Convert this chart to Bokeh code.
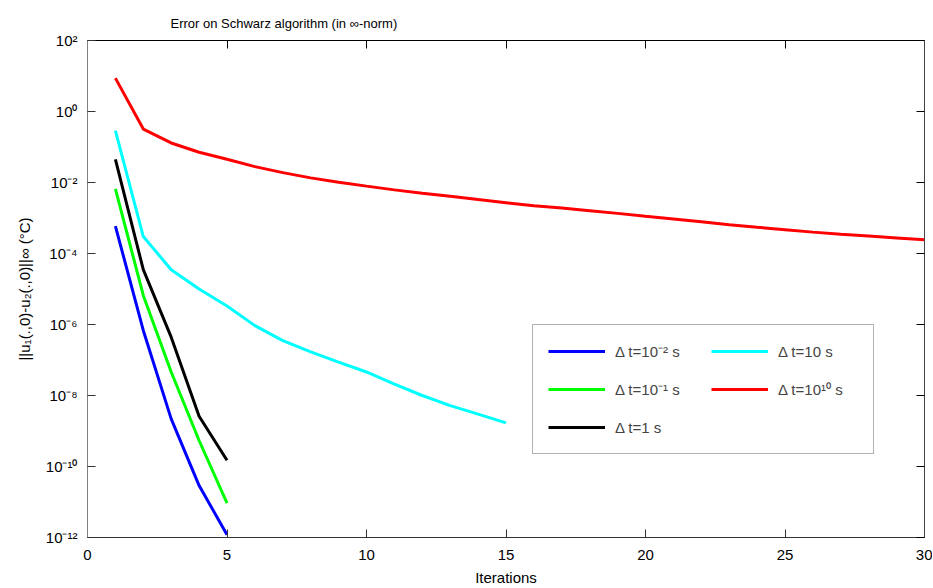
from bokeh.plotting import figure
from bokeh.models import LogAxis, LinearAxis, FixedTicker, Legend, LegendItem, Range1d, Title
from bokeh.embed import file_html
from bokeh.resources import INLINE

# ---- data ----
iters_short = [1, 2, 3, 4, 5]
iters_cyan = list(range(1, 16))
iters_red = list(range(1, 31))

err_dt_1em2 = [5.9e-4, 6.8e-7, 2.2e-9, 2.9e-11, 1.2e-12]
err_dt_1em1 = [6.6e-3, 6.6e-6, 4.6e-8, 5.4e-10, 9.3e-12]
err_dt_1 = [4.5e-2, 3.5e-5, 4.4e-7, 2.6e-9, 1.5e-10]
err_dt_10 = [2.9e-1, 3.0e-4, 3.5e-5, 1.0e-5, 3.3e-6, 9.3e-7, 3.5e-7, 1.7e-7,
             8.7e-8, 4.6e-8, 2.1e-8, 1.0e-8, 5.2e-9, 3.0e-9, 1.7e-9]
err_dt_1e10 = [8.7, 3.2e-1, 1.3e-1, 7.1e-2, 4.5e-2, 2.8e-2, 1.9e-2, 1.35e-2,
               1.02e-2, 7.9e-3, 6.2e-3, 5.0e-3, 4.1e-3, 3.3e-3, 2.7e-3, 2.2e-3,
               1.9e-3, 1.6e-3, 1.35e-3, 1.12e-3, 9.4e-4, 7.9e-4, 6.5e-4, 5.5e-4,
               4.7e-4, 4.0e-4, 3.5e-4, 3.1e-4, 2.75e-4, 2.45e-4]

legend_labels = ["Δ t=10⁻² s", "Δ t=10⁻¹ s", "Δ t=1 s", "Δ t=10 s", "Δ t=10¹⁰ s"]
x_ticks = [0, 5, 10, 15, 20, 25, 30]
y_ticks = [1e-12, 1e-10, 1e-8, 1e-6, 1e-4, 1e-2, 1e0, 1e2]
y_tick_labels = ["10⁻¹²", "10⁻¹⁰", "10⁻⁸", "10⁻⁶", "10⁻⁴", "10⁻²", "10⁰", "10²"]

FONT = "Liberation Sans"

p = figure(width=932, height=588, output_backend="svg", toolbar_location=None,
           y_axis_type="log", x_range=Range1d(0, 30), y_range=Range1d(1e-12, 1e2),
           min_border_left=87, min_border_right=8, min_border_top=40, min_border_bottom=49)

p.title = Title(text="Error on Schwarz algorithm (in ∞-norm)", text_font=FONT,
                text_font_size="13px", text_font_style="normal", align="left",
                offset=83, standoff=20, text_color="black")

p.grid.visible = False
p.outline_line_color = "black"
p.background_fill_color = "white"
p.border_fill_color = "white"

colors = ["#0000ff", "#00ff00", "#000000", "#00ffff", "#ff0000"]
xs = [iters_short, iters_short, iters_short, iters_cyan, iters_red]
ys = [err_dt_1em2, err_dt_1em1, err_dt_1, err_dt_10, err_dt_1e10]
renderers = []
for x, y, c in zip(xs, ys, colors):
    renderers.append(p.line(x, y, line_color=c, line_width=3))

# axes styling
xa = p.xaxis[0]
xa.ticker = FixedTicker(ticks=x_ticks)
xa.axis_label = "Iterations"
ya = p.yaxis[0]
ya.ticker = FixedTicker(ticks=y_ticks)
ya.major_label_overrides = {t: l for t, l in zip(y_ticks, y_tick_labels)}
ya.axis_label = "||u₁(.,0)-u₂(.,0)||∞ (°C)"

for ax in (xa, ya):
    ax.major_tick_in = 8
    ax.major_tick_out = 0
    ax.minor_tick_line_color = None
    ax.major_label_text_font = FONT
    ax.major_label_text_font_size = "15px"
    ax.major_label_text_color = "black"
    ax.axis_label_text_font = FONT
    ax.axis_label_text_font_size = "15px"
    ax.axis_label_text_font_style = "normal"
    ax.axis_label_text_color = "black"
    ax.major_tick_line_color = "#333333"
ya.axis_line_color = "#808080"
xa.axis_line_color = "#333333"
xa.major_label_standoff = 12
ya.major_label_standoff = 10
ya.axis_label_standoff = 10
xa.axis_label_standoff = 6

# mirrored axes (top/right) for box ticks
top = LinearAxis(ticker=FixedTicker(ticks=x_ticks), major_label_text_font_size="1px",
                 major_label_text_alpha=0, major_tick_in=8, major_tick_out=0,
                 minor_tick_line_color=None, axis_line_color="black", major_label_standoff=0)
right = LogAxis(ticker=FixedTicker(ticks=y_ticks), major_label_text_font_size="1px",
                major_label_text_alpha=0, major_tick_in=8, major_tick_out=0,
                minor_tick_line_color=None, axis_line_color="#444444", major_label_standoff=0)
p.add_layout(top, "above")
p.add_layout(right, "right")

items = [LegendItem(label=l, renderers=[r]) for l, r in zip(legend_labels, renderers)]
legend = Legend(items=items, location=(445, 83), orientation="vertical", nrows=3,
                label_text_font=FONT, label_text_font_size="15px",
                glyph_width=57, glyph_height=22, label_height=22, label_width=80,
                label_standoff=10, spacing=16, padding=15, margin=0,
                border_line_color="#666666", border_line_width=1,
                background_fill_alpha=1.0)
p.add_layout(legend, "center")

open("out.html", "w").write(file_html(p, INLINE))
